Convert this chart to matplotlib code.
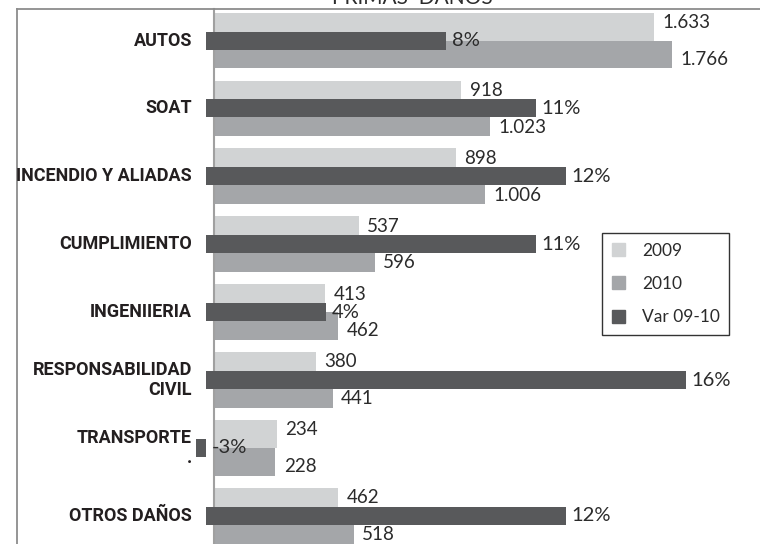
import matplotlib
matplotlib.use("Agg")
import matplotlib.pyplot as plt
from matplotlib.lines import Line2D
from matplotlib.patches import Patch
from matplotlib.transforms import blended_transform_factory

categories = ["AUTOS", "SOAT", "INCENDIO Y ALIADAS", "CUMPLIMIENTO", "INGENIIERIA",
              "RESPONSABILIDAD\nCIVIL", "TRANSPORTE\n.", "OTROS DAÑOS"]
primas_2009 = [1633, 918, 898, 537, 413, 380, 234, 462]
primas_2010 = [1766, 1023, 1006, 596, 462, 441, 228, 518]
var_0910 = [8, 11, 12, 11, 4, 16, -3, 12]
series_names = ["2009", "2010", "Var 09-10"]

c2009 = "#d1d3d4"
c2010 = "#a4a6a9"
cvar = "#58595b"
txt = "#2b2b2b"

W, H = 760, 544
fig = plt.figure(figsize=(W / 100, H / 100), dpi=100)

# layout in pixels of the original
top = 9
ylims = (7.415, -0.464)
xmax = 1700
px_per_pct = 30

def fmt(v):
    return f"{v:,}".replace(",", ".")

ax = fig.add_axes([214 / W, 0, (672 - 214) / W, (H - top) / H])
pos = list(range(len(categories)))
ax.barh([p - 0.205 for p in pos], primas_2009, height=0.41, color=c2009)
ax.barh([p + 0.205 for p in pos], primas_2010, height=0.41, color=c2010)
ax.set_xlim(0, xmax)
ax.set_ylim(*ylims)
ax.set_xticks([])
ax.set_yticks([])
for s in ["top", "right", "bottom"]:
    ax.spines[s].set_visible(False)
ax.spines["left"].set_color("#a0a0a0")
ax.spines["left"].set_linewidth(1.5)

for p, v in zip(pos, primas_2009):
    ax.annotate(fmt(v), xy=(min(v, xmax), p - 0.205), xytext=(6, 3),
                textcoords="offset points", va="center", ha="left",
                fontsize=13.5, color=txt, family="Lato",
                annotation_clip=False)
for p, v in zip(pos, primas_2010):
    ax.annotate(fmt(v), xy=(min(v, xmax), p + 0.205), xytext=(6, -3.5),
                textcoords="offset points", va="center", ha="left",
                fontsize=13.5, color=txt, family="Lato",
                annotation_clip=False)

# variation bars on their own scale
ax2 = fig.add_axes([196 / W, 0, (740 - 196) / W, (H - top) / H])
ax2.barh(pos, var_0910, height=0.265, color=cvar)
ax2.set_xlim(-10 / px_per_pct, (740 - 206) / px_per_pct)
ax2.set_ylim(*ylims)
ax2.axis("off")
for p, v in zip(pos, var_0910):
    ax2.annotate(f"{v}%", xy=(max(v, 0), p), xytext=(4, 0),
                 textcoords="offset points", va="center", ha="left",
                 fontsize=14.5, color=txt, family="Lato",
                 annotation_clip=False)

# category names
tr = blended_transform_factory(fig.transFigure, ax.transData)
for p, name in zip(pos, categories):
    fig.text(192 / W, p, name, transform=tr, ha="right", va="center",
             multialignment="right", fontsize=13, fontweight="bold",
             family="Roboto", color="#231f20", linespacing=1.2)

# title (cut at top in the original)
fig.text(412 / W, 1 - 3.5 / H, "PRIMAS  DAÑOS", ha="center", va="baseline",
         fontsize=15, color=txt, family="Lato")

# outer frame
fig.add_artist(Line2D([17 / W, 17 / W], [0, 1 - top / H], color="#8c8c8c",
                      lw=1.3, transform=fig.transFigure))
fig.add_artist(Line2D([17 / W, 1], [1 - top / H, 1 - top / H], color="#8c8c8c",
                      lw=1.3, transform=fig.transFigure))

handles = [Patch(color=c2009), Patch(color=c2010), Patch(color=cvar)]
leg = fig.legend(handles, series_names, loc="upper left",
                 bbox_to_anchor=(602 / W, 1 - 233 / H), frameon=True,
                 fancybox=False, edgecolor="#333333", framealpha=1,
                 handlelength=0.75, handleheight=0.75, handletextpad=1.0,
                 labelspacing=1.0, borderpad=0.55, borderaxespad=0,
                 prop={"family": "Lato", "size": 12.5})
leg.get_frame().set_linewidth(1.0)
for t in leg.get_texts():
    t.set_color(txt)

fig.savefig("out.png", dpi=100)
